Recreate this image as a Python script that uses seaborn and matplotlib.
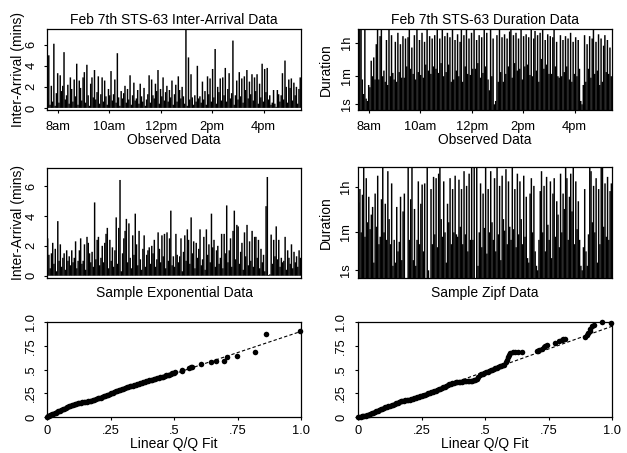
import numpy as np
import pandas as pd
import matplotlib
matplotlib.use("Agg")
import matplotlib.pyplot as plt
import seaborn as sns

# observed inter-arrival times (minutes), Feb 7th STS-63, 7:35am - 5:27pm
ia_obs = [0.9, 5.0, 0.3, 2.1, 0.6, 6.1, 0.2, 1.4, 3.3, 0.5, 3.1, 1.6, 2.1, 5.3, 0.8, 1.2, 2.2, 0.4, 2.9, 1.8,
          0.6, 2.7, 1.1, 4.2, 0.3, 2.6, 1.9, 0.7, 2.9, 3.4, 0.5, 4.1, 1.2, 0.2, 2.3, 2.9, 1.0, 3.6, 0.8, 1.5,
          3.0, 0.4, 1.3, 2.9, 0.6, 2.6, 1.1, 0.3, 1.8, 1.2, 3.5, 0.7, 1.3, 2.7, 0.5, 5.2, 1.0, 0.2, 1.6, 0.9,
          1.4, 2.1, 0.5, 1.8, 0.8, 3.1, 0.3, 1.2, 2.4, 0.7, 0.9, 1.7, 0.4, 2.3, 1.1, 0.6, 1.9, 0.2, 0.8, 1.3,
          3.1, 0.5, 2.7, 1.2, 0.9, 2.3, 1.6, 3.6, 0.4, 1.8, 1.1, 2.9, 0.7, 1.5, 2.1, 0.6, 1.7, 1.0, 2.6, 0.3,
          1.3, 2.2, 0.6, 3.0, 1.7, 0.9, 2.0, 1.1, 0.4, 9.0, 0.2, 4.8, 0.8, 3.2, 1.0, 0.3, 1.2, 0.6, 4.0, 0.9,
          1.1, 0.5, 2.5, 0.8, 1.6, 0.3, 3.0, 1.3, 2.8, 0.6, 3.7, 1.0, 5.6, 0.4, 2.0, 1.5, 2.8, 0.7, 2.9, 1.2,
          3.8, 0.6, 1.8, 3.3, 0.9, 1.4, 6.4, 0.3, 1.2, 2.6, 0.8, 3.4, 1.1, 2.8, 0.5, 3.0, 1.7, 3.6, 0.9, 2.5,
          1.3, 3.2, 0.7, 2.9, 1.6, 3.2, 0.4, 2.3, 1.0, 4.2, 0.6, 3.7, 1.5, 3.8, 0.8, 1.2, 0.3, 0.5, 1.7, 0.4,
          0.1, 1.7, 1.3, 0.6, 1.2, 3.3, 0.8, 4.5, 2.0, 0.5, 2.7, 1.9, 2.8, 0.7, 2.4, 1.2, 2.0, 0.4, 1.8, 2.9]

# observed durations (seconds)
dur_obs = [30, 20000, 30000, 40, 6, 25000, 3, 2, 20, 15, 400, 60, 600, 40, 3000, 25000, 40, 8000, 20000, 60,
           120, 30, 5000, 20, 25000, 60, 9000, 90, 40, 4000, 30, 12000, 100, 3000, 50, 8000, 50, 6000, 200, 7000,
           25000, 150, 2000, 80, 9000, 40, 30000, 100, 5000, 70, 12000, 50, 4000, 250, 20000, 120, 8000, 80, 6000, 200,
           9000, 150, 25000, 90, 6000, 300, 30000, 60, 8000, 100, 12000, 250, 7000, 30, 25000, 40, 5000, 120, 10000, 60,
           4000, 30000, 30, 9000, 200, 25000, 80, 6000, 70, 12000, 150, 30000, 150, 5000, 300, 9000, 50, 7000, 90, 20000,
           200, 12000, 40, 10, 30000, 60, 6000, 1, 2, 9000, 30, 20000, 100, 7000, 30, 10000, 80, 6000, 200, 14000,
           30000, 50, 9000, 300, 12000, 120, 6000, 150, 20000, 40, 8000, 200, 10000, 250, 7000, 70, 25000, 60, 6000, 15000,
           120, 9000, 30, 12000, 500, 25000, 150, 5000, 250, 10000, 80, 8000, 80, 7000, 20000, 200, 4000, 60, 50, 9000,
           60, 5000, 100, 8000, 200, 6000, 40, 12000, 30, 4000, 80, 7000, 60, 5000, 150, 2, 1, 20, 9000, 30,
           3000, 150, 8000, 50, 6000, 25000, 80, 4000, 120, 10000, 20, 6000, 30, 2500, 9000, 100, 5000, 80, 2000, 60]

# sample exponential inter-arrivals (minutes)
ia_exp = [2.5, 1.4, 0.5, 1.5, 2.2, 0.8, 1.8, 0.3, 3.65, 1.0, 2.1, 0.6, 1.2, 1.5, 0.4, 1.7, 1.0, 1.3, 0.7, 1.7,
          0.9, 1.2, 2.3, 0.5, 1.0, 1.7, 2.5, 0.8, 1.0, 2.1, 0.4, 2.6, 2.2, 1.5, 0.9, 1.6, 0.6, 4.9, 1.1, 2.4,
          2.6, 0.7, 1.2, 2.0, 0.9, 2.2, 2.8, 3.2, 0.5, 2.4, 1.0, 1.9, 0.6, 1.7, 3.9, 0.8, 3.2, 6.4, 0.3, 1.5,
          2.5, 3.0, 3.8, 0.9, 3.5, 1.2, 0.5, 2.7, 1.4, 4.15, 2.1, 0.7, 3.0, 1.1, 0.4, 1.8, 2.7, 0.6, 1.4, 1.7,
          1.9, 0.8, 2.0, 1.5, 2.4, 0.6, 1.1, 2.9, 1.8, 0.9, 2.7, 1.3, 2.8, 0.5, 2.9, 1.0, 2.5, 4.35, 0.7, 1.3,
          0.6, 2.8, 1.4, 0.9, 1.3, 2.5, 0.3, 1.6, 2.7, 1.0, 3.1, 2.4, 0.8, 3.9, 1.5, 2.3, 0.5, 2.2, 1.2, 1.8,
          3.1, 0.7, 1.1, 2.6, 0.4, 3.1, 1.4, 2.1, 0.9, 4.15, 1.9, 2.4, 0.6, 1.7, 2.0, 0.8, 1.2, 2.8, 0.5, 2.8,
          1.5, 4.7, 0.9, 1.7, 2.5, 0.6, 3.0, 4.35, 1.1, 3.4, 3.3, 0.8, 1.6, 2.2, 0.4, 2.9, 1.3, 3.4, 0.7, 2.3,
          1.0, 3.0, 0.6, 2.6, 2.6, 1.2, 2.4, 0.5, 1.8, 0.9, 1.4, 0.3, 4.65, 6.6, 0.05, 0.1, 2.75, 0.8, 2.4, 1.3,
          3.3, 1.1, 2.4, 0.6, 1.2, 0.9, 1.0, 2.6, 0.4, 1.7, 1.2, 0.8, 2.1, 0.5, 1.6, 0.9, 1.3, 0.6, 1.7, 1.2]

# sample zipf durations (seconds)
dur_zipf = [900, 3000, 60, 1800, 20000, 40, 8000, 150, 1500, 80, 300, 600, 3, 2000, 100, 10000, 20, 40, 1200, 20000,
            60, 800, 30, 15000, 200, 20, 5000, 2, 30, 3, 600, 10, 25, 1500, 4, 400, 2000, 0, 0, 25000,
            30, 1200, 30000, 4, 500, 2, 30, 6000, 20, 800, 4500, 10, 5000, 0, 30000, 1, 0, 3000, 20, 9000,
            50, 8000, 15, 12000, 25000, 200, 40, 6000, 60, 3, 800, 150, 8000, 20, 3000, 60, 10000, 50, 40, 7000,
            100, 3000, 20, 15000, 50, 4000, 10, 12000, 30, 20000, 30, 25000, 0, 30000, 2, 60, 5000, 15, 2000, 90,
            20000, 8, 3000, 60, 15000, 150, 30, 8000, 10, 25000, 50, 4000, 4, 10000, 200, 70, 18000, 20, 6000, 100,
            30, 20000, 80, 3000, 15, 12000, 50, 6000, 200, 20, 10000, 40, 1500, 5, 3, 2000, 8000, 60, 4000, 10,
            2, 1, 30, 2500, 15000, 60, 4000, 10, 9000, 120, 30, 6000, 5, 2000, 8000, 40, 1000, 300, 15, 12000,
            60, 2000, 500, 20000, 8000, 30, 1500, 12000, 400, 30000, 20, 6000, 80, 1000, 30, 2, 1, 15, 3000, 10,
            2, 50, 20000, 15000, 150, 4000, 60, 8000, 3, 3000, 20, 25000, 30000, 100, 5000, 40, 9000, 30, 2500, 5000]

# Q/Q points for the exponential fit
qq_exp_x = [0.000, 0.004, 0.008, 0.012, 0.016, 0.020, 0.025, 0.030, 0.035, 0.040,
            0.045, 0.050, 0.056, 0.062, 0.068, 0.074, 0.080, 0.086, 0.092, 0.097,
            0.103, 0.109, 0.115, 0.121, 0.127, 0.133, 0.139, 0.145, 0.151, 0.157,
            0.163, 0.169, 0.175, 0.181, 0.187, 0.193, 0.199, 0.205, 0.211, 0.217,
            0.223, 0.229, 0.235, 0.241, 0.247, 0.253, 0.259, 0.265, 0.271, 0.277,
            0.283, 0.289, 0.295, 0.301, 0.307, 0.313, 0.319, 0.325, 0.331, 0.337,
            0.343, 0.349, 0.355, 0.361, 0.367, 0.373, 0.379, 0.385, 0.391, 0.397,
            0.403, 0.409, 0.415, 0.421, 0.427, 0.433, 0.439, 0.445, 0.451, 0.457,
            0.463, 0.469, 0.475, 0.481, 0.487, 0.493, 0.499, 0.504,
            0.530, 0.533, 0.559, 0.565, 0.570, 0.605, 0.644, 0.665, 0.697, 0.710, 0.749, 0.819, 0.861, 0.996]
qq_exp_y = [0.002, 0.006, 0.011, 0.016, 0.021, 0.027, 0.033, 0.040, 0.046, 0.053,
            0.060, 0.066, 0.074, 0.081, 0.089, 0.096, 0.104, 0.111, 0.118, 0.123,
            0.129, 0.135, 0.140, 0.144, 0.148, 0.151, 0.153, 0.156, 0.159, 0.161,
            0.164, 0.167, 0.171, 0.176, 0.183, 0.190, 0.196, 0.200, 0.204, 0.210,
            0.216, 0.222, 0.229, 0.236, 0.243, 0.250, 0.257, 0.263, 0.270, 0.277,
            0.283, 0.288, 0.292, 0.297, 0.303, 0.312, 0.320, 0.324, 0.326, 0.330,
            0.334, 0.339, 0.344, 0.349, 0.354, 0.360, 0.366, 0.372, 0.378, 0.382,
            0.386, 0.391, 0.394, 0.396, 0.401, 0.408, 0.413, 0.416, 0.418, 0.425,
            0.432, 0.438, 0.443, 0.447, 0.452, 0.460, 0.468, 0.474,
            0.480, 0.497, 0.515, 0.522, 0.530, 0.561, 0.575, 0.593, 0.593, 0.632, 0.646, 0.681, 0.870, 0.902]
qq_exp_fit = (0.008, 0.893)   # intercept, slope

# Q/Q points for the zipf fit
qq_zipf_x = [0.000, 0.005, 0.010, 0.015, 0.020, 0.025, 0.030, 0.036, 0.042, 0.048,
             0.054, 0.060, 0.066, 0.072, 0.078, 0.084, 0.090, 0.096, 0.102, 0.108,
             0.114, 0.120, 0.126, 0.132, 0.138, 0.144, 0.150, 0.156, 0.162, 0.168,
             0.174, 0.180, 0.186, 0.192, 0.198, 0.204, 0.210, 0.216, 0.222, 0.228,
             0.234, 0.240, 0.246, 0.252, 0.258, 0.264, 0.270, 0.276, 0.282, 0.288,
             0.294, 0.300, 0.306, 0.312, 0.318, 0.324, 0.330, 0.336, 0.342, 0.348,
             0.354, 0.360, 0.366, 0.372, 0.378, 0.384, 0.390, 0.396, 0.402, 0.408,
             0.414, 0.420, 0.426, 0.432, 0.438, 0.444, 0.450, 0.456, 0.462, 0.468,
             0.474, 0.480, 0.486, 0.492, 0.498, 0.504, 0.510, 0.516, 0.522, 0.528,
             0.534, 0.540, 0.546, 0.552, 0.558, 0.564, 0.570, 0.576,
             0.582, 0.585, 0.590, 0.594, 0.598, 0.610, 0.618, 0.630, 0.644, 0.703,
             0.708, 0.713, 0.723, 0.733, 0.738, 0.743, 0.776, 0.790, 0.802, 0.808,
             0.815, 0.894, 0.900, 0.907, 0.912, 0.915, 0.920, 0.930, 0.959, 0.996]
qq_zipf_y = [0.003, 0.004, 0.005, 0.006, 0.008, 0.010, 0.013, 0.018, 0.024, 0.030,
             0.038, 0.045, 0.052, 0.060, 0.068, 0.075, 0.082, 0.088, 0.096, 0.103,
             0.110, 0.116, 0.121, 0.125, 0.130, 0.137, 0.144, 0.150, 0.157, 0.165,
             0.171, 0.173, 0.174, 0.176, 0.179, 0.184, 0.189, 0.194, 0.199, 0.204,
             0.208, 0.212, 0.216, 0.221, 0.227, 0.234, 0.241, 0.248, 0.255, 0.261,
             0.266, 0.271, 0.277, 0.285, 0.293, 0.300, 0.307, 0.314, 0.321, 0.328,
             0.335, 0.343, 0.351, 0.356, 0.361, 0.364, 0.366, 0.368, 0.370, 0.372,
             0.374, 0.375, 0.376, 0.378, 0.380, 0.382, 0.384, 0.385, 0.390, 0.405,
             0.425, 0.440, 0.448, 0.455, 0.462, 0.470, 0.478, 0.485, 0.492, 0.499,
             0.506, 0.512, 0.518, 0.525, 0.532, 0.538, 0.545, 0.551,
             0.580, 0.604, 0.630, 0.655, 0.672, 0.680, 0.681, 0.680, 0.681, 0.691,
             0.700, 0.705, 0.719, 0.740, 0.750, 0.761, 0.779, 0.800, 0.814, 0.820,
             0.822, 0.842, 0.860, 0.884, 0.910, 0.930, 0.955, 0.970, 0.995, 0.990]
qq_zipf_fit = (0.0, 0.955)

hour_ticks = [8, 10, 12, 14, 16]
hour_labels = ["8am", "10am", "12pm", "2pm", "4pm"]
t_start, t_end = 7.6, 17.42
dur_ticks = [1, 60, 3600]
dur_labels = ["1s", "1m", "1h"]
qq_ticks = [0, 0.25, 0.5, 0.75, 1.0]
qq_labels = ["0", ".25", ".5", ".75", "1.0"]

sns.set_style("ticks")
plt.rcParams["font.family"] = ["Liberation Sans", "DejaVu Sans"]
plt.rcParams["font.size"] = 10
plt.rcParams["axes.titlesize"] = 10
plt.rcParams["axes.labelsize"] = 10
plt.rcParams["xtick.labelsize"] = 9.3
plt.rcParams["ytick.labelsize"] = 9.3
plt.rcParams["axes.linewidth"] = 0.9
plt.rcParams["text.color"] = "black"
plt.rcParams["axes.labelcolor"] = "black"
plt.rcParams["xtick.color"] = "black"
plt.rcParams["ytick.color"] = "black"

fig = plt.figure(figsize=(6.27, 4.53), dpi=100)


def rect(l, t, r, b):
    return [l / 627, 1 - b / 453, (r - l) / 627, (b - t) / 453]


def style(ax, ypad, xpad=5.5, ylab_x=-0.087):
    for s in ax.spines.values():
        s.set_visible(True)
        s.set_color("black")
    ax.tick_params(length=2.2, width=0.8, color="black", labelcolor="black", direction="out")
    ax.tick_params(axis="x", pad=xpad)
    ax.tick_params(axis="y", labelrotation=90, pad=ypad)
    for lab in ax.get_yticklabels():
        lab.set_va("center")
    ax.yaxis.set_label_coords(ylab_x, 0.5)
    ax.title.set_color("black")


def bars(ax, x, y):
    df = pd.DataFrame({"x": x, "y": y})
    # slight overlap so neighbouring bars merge without light seams
    sns.barplot(data=df, x="x", y="y", native_scale=True, color="black",
                width=1.15, linewidth=0, saturation=1, errorbar=None, ax=ax)
    for p in ax.patches:
        p.set_snap(False)


n = len(ia_obs)
times = t_start + np.arange(n) * (t_end - t_start) / (n - 1)

# top left
ax = fig.add_axes(rect(47, 29, 301, 110))
bars(ax, times, ia_obs)
ax.set_xlim(7.58, 17.45)
ax.set_ylim(-0.2, 7.5)
ax.set_xticks(hour_ticks, hour_labels)
ax.set_yticks([0, 2, 4, 6])
ax.set_title("Feb 7th STS-63 Inter-Arrival Data", pad=3.5)
ax.set_xlabel("Observed Data", labelpad=0)
ax.set_ylabel("Inter-Arrival (mins)")
style(ax, ypad=4.8)

# top right
ax = fig.add_axes(rect(358, 29, 612, 110))
bars(ax, times, np.log10(np.array(dur_obs) + 1))
ax.set_xlim(7.58, 17.45)
ax.set_ylim(0, 4.28)
ax.set_xticks(hour_ticks, hour_labels)
ax.set_yticks(np.log10(np.array(dur_ticks) + 1), dur_labels)
ax.set_title("Feb 7th STS-63 Duration Data", pad=3.5)
ax.set_xlabel("Observed Data", labelpad=0)
ax.set_ylabel("Duration")
style(ax, ypad=1.2, ylab_x=-0.098)

# middle left
idx = np.arange(len(ia_exp))
ax = fig.add_axes(rect(47, 168, 301, 278))
bars(ax, idx, ia_exp)
ax.set_xlim(-0.5, len(idx) - 0.5)
ax.set_ylim(-0.15, 7.2)
ax.set_xticks([])
ax.set_yticks([0, 2, 4, 6])
ax.set_xlabel("Sample Exponential Data", labelpad=6)
ax.set_ylabel("Inter-Arrival (mins)")
style(ax, ypad=4.8)

# middle right
ax = fig.add_axes(rect(358, 167, 612, 278))
bars(ax, idx, np.log10(np.array(dur_zipf) + 1))
ax.set_xlim(-0.5, len(idx) - 0.5)
ax.set_ylim(0, 4.34)
ax.set_xticks([])
ax.set_yticks(np.log10(np.array(dur_ticks) + 1), dur_labels)
ax.set_xlabel("Sample Zipf Data", labelpad=6)
ax.set_ylabel("Duration")
style(ax, ypad=1.9, ylab_x=-0.098)

# bottom Q/Q plots
for l, r, qx, qy, fit, yp in [(47, 301, qq_exp_x, qq_exp_y, qq_exp_fit, 4.8),
                              (358, 612, qq_zipf_x, qq_zipf_y, qq_zipf_fit, 5.5)]:
    ax = fig.add_axes(rect(l, 322, r, 417))
    ax.axline((0, fit[0]), slope=fit[1], color="black", lw=0.8, ls=(0, (3, 2)))
    sns.scatterplot(x=qx, y=qy, color="black", s=16, linewidth=0, ax=ax, clip_on=False, zorder=3)
    ax.set_xlim(0, 1)
    ax.set_ylim(0, 1)
    ax.set_xticks(qq_ticks, qq_labels)
    ax.set_yticks(qq_ticks, qq_labels)
    ax.set_xlabel("Linear Q/Q Fit", labelpad=0)
    style(ax, ypad=yp, xpad=3.4)

fig.savefig("out.png", dpi=100)
